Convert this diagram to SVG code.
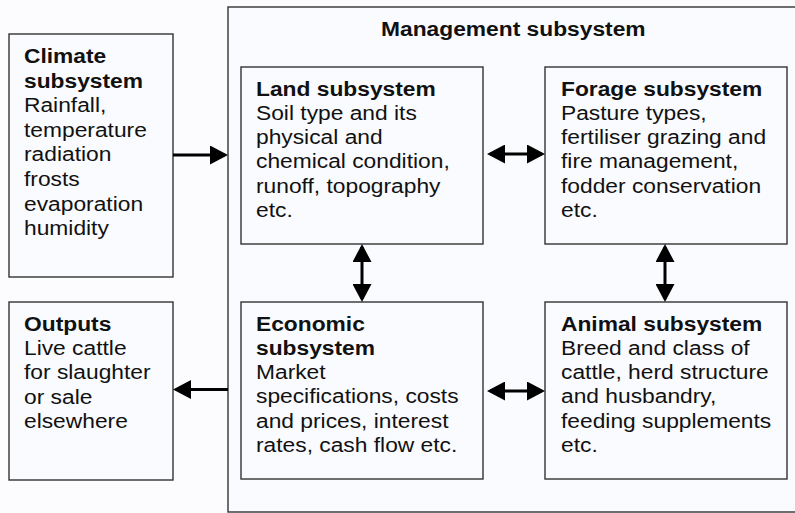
<svg xmlns="http://www.w3.org/2000/svg" width="795" height="513" viewBox="0 0 795 513">
<style>
.box{fill:#fafbfe;stroke:#333;stroke-width:1.4}
.t{font-family:"Liberation Sans",Arial,Helvetica,sans-serif;font-size:21px;fill:#111}
.b{font-weight:bold}
.c{stroke:#000;stroke-width:3;fill:none}
</style>
<defs>
<marker id="ah" markerUnits="userSpaceOnUse" markerWidth="19" markerHeight="19" refX="15" refY="9.5" orient="auto-start-reverse">
<path d="M0,0 L18,9.5 L0,19 Z" fill="#000"/>
</marker>
</defs>
<rect width="795" height="513" fill="#fcfcfe"/>

<g id="management">
<rect class="box" x="228" y="7" width="600" height="505"/>
<text class="t b" transform="translate(381,36) scale(1.085,1)">Management subsystem</text>
</g>

<g id="climate">
<rect class="box" x="9" y="34" width="164" height="243"/>
<text class="t" transform="translate(24,63) scale(1.085,1)"><tspan class="b" x="0">Climate</tspan><tspan class="b" x="0" dy="24.6">subsystem</tspan><tspan x="0" dy="24.6">Rainfall,</tspan><tspan x="0" dy="24.6">temperature</tspan><tspan x="0" dy="24.6">radiation</tspan><tspan x="0" dy="24.6">frosts</tspan><tspan x="0" dy="24.6">evaporation</tspan><tspan x="0" dy="24.6">humidity</tspan></text>
</g>

<g id="outputs">
<rect class="box" x="9" y="302" width="164" height="178"/>
<text class="t" transform="translate(24,330.5) scale(1.085,1)"><tspan class="b" x="0">Outputs</tspan><tspan x="0" dy="24.4">Live cattle</tspan><tspan x="0" dy="24.4">for slaughter</tspan><tspan x="0" dy="24.4">or sale</tspan><tspan x="0" dy="24.4">elsewhere</tspan></text>
</g>

<g id="land">
<rect class="box" x="241" y="67" width="242" height="177"/>
<text class="t" transform="translate(256,95.5) scale(1.085,1)"><tspan class="b" x="0">Land subsystem</tspan><tspan x="0" dy="24.3">Soil type and its</tspan><tspan x="0" dy="24.3">physical and</tspan><tspan x="0" dy="24.3">chemical condition,</tspan><tspan x="0" dy="24.3">runoff, topography</tspan><tspan x="0" dy="24.3">etc.</tspan></text>
</g>

<g id="forage">
<rect class="box" x="545" y="67" width="242" height="177"/>
<text class="t" transform="translate(561,95.5) scale(1.085,1)"><tspan class="b" x="0">Forage subsystem</tspan><tspan x="0" dy="24.3">Pasture types,</tspan><tspan x="0" dy="24.3">fertiliser grazing and</tspan><tspan x="0" dy="24.3">fire management,</tspan><tspan x="0" dy="24.3">fodder conservation</tspan><tspan x="0" dy="24.3">etc.</tspan></text>
</g>

<g id="economic">
<rect class="box" x="241" y="302" width="242" height="177"/>
<text class="t" transform="translate(256,330.5) scale(1.085,1)"><tspan class="b" x="0">Economic</tspan><tspan class="b" x="0" dy="24.3">subsystem</tspan><tspan x="0" dy="24.3">Market</tspan><tspan x="0" dy="24.3">specifications, costs</tspan><tspan x="0" dy="24.3">and prices, interest</tspan><tspan x="0" dy="24.3">rates, cash flow etc.</tspan></text>
</g>

<g id="animal">
<rect class="box" x="545" y="302" width="242" height="177"/>
<text class="t" transform="translate(561,330.5) scale(1.085,1)"><tspan class="b" x="0">Animal subsystem</tspan><tspan x="0" dy="24.3">Breed and class of</tspan><tspan x="0" dy="24.3">cattle, herd structure</tspan><tspan x="0" dy="24.3">and husbandry,</tspan><tspan x="0" dy="24.3">feeding supplements</tspan><tspan x="0" dy="24.3">etc.</tspan></text>
</g>

<g id="connectors">
<line class="c" x1="173" y1="155" x2="225" y2="155" marker-end="url(#ah)"/>
<line class="c" x1="490" y1="154" x2="542" y2="154" marker-start="url(#ah)" marker-end="url(#ah)"/>
<line class="c" x1="362" y1="247" x2="362" y2="299" marker-start="url(#ah)" marker-end="url(#ah)"/>
<line class="c" x1="665" y1="247" x2="665" y2="299" marker-start="url(#ah)" marker-end="url(#ah)"/>
<line class="c" x1="490" y1="391" x2="542" y2="391" marker-start="url(#ah)" marker-end="url(#ah)"/>
<line class="c" x1="228" y1="389.5" x2="176" y2="389.5" marker-end="url(#ah)"/>
</g>
</svg>
